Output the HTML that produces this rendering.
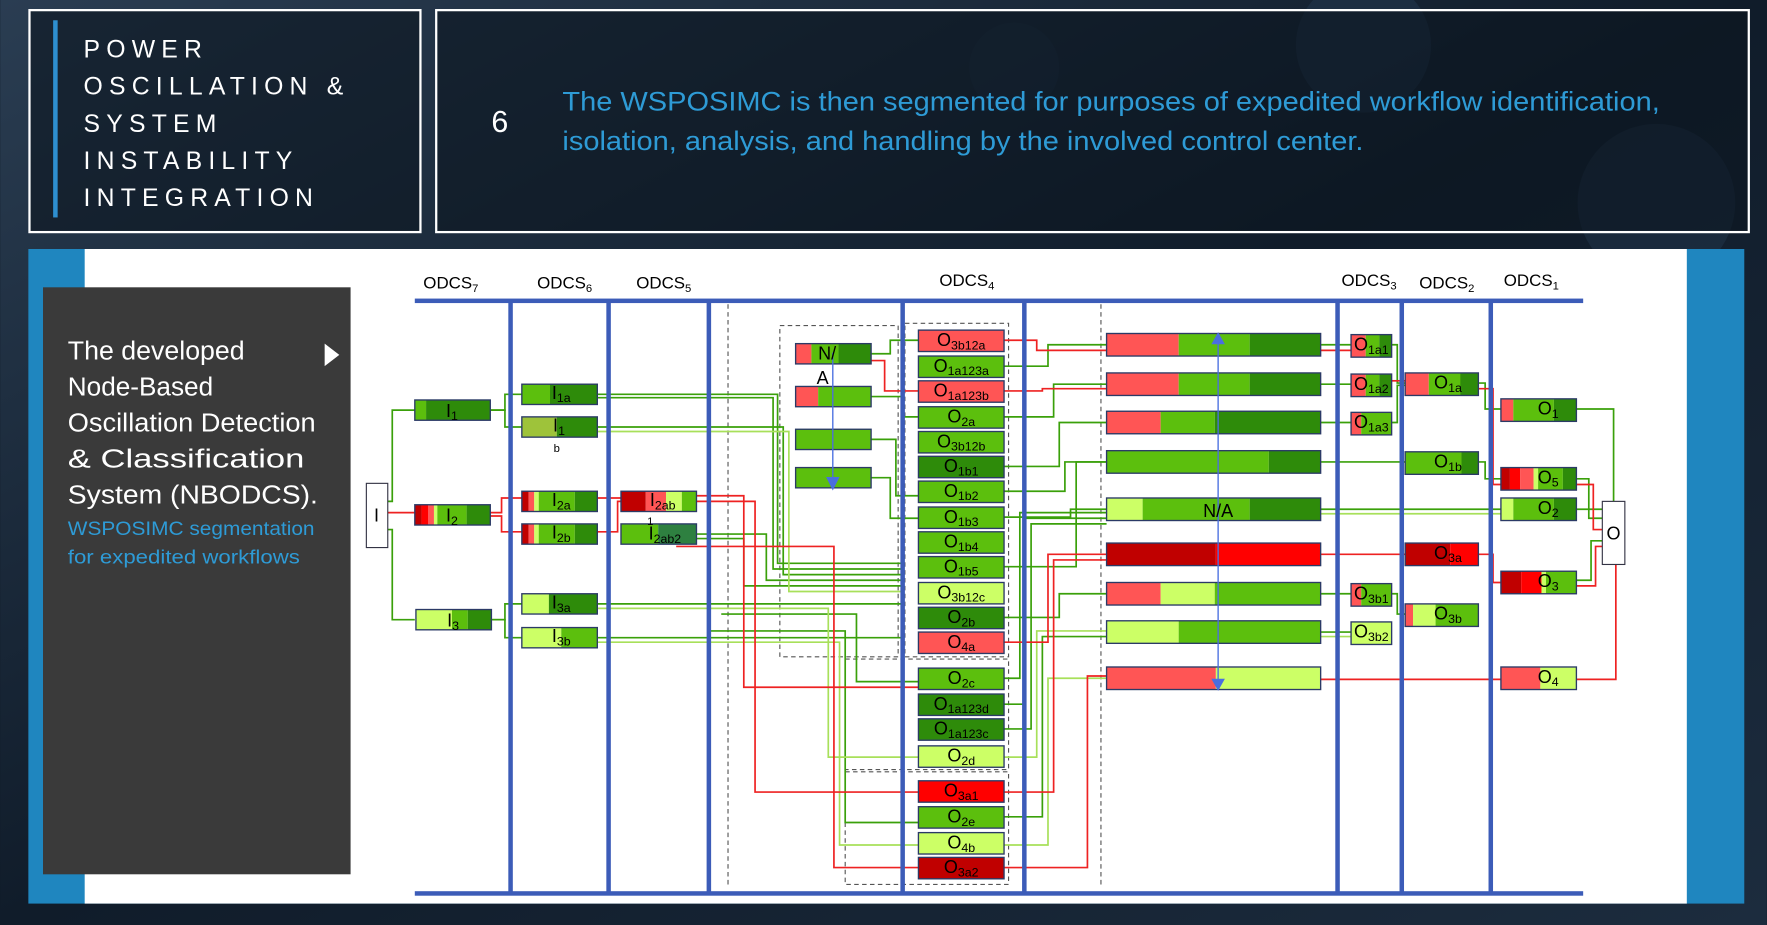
<!DOCTYPE html>
<html><head><meta charset="utf-8"><style>
html,body{margin:0;padding:0;background:#0f1a26;}
svg{display:block}
text{font-family:"Liberation Sans",sans-serif;}
</style></head><body>
<svg width="1767" height="925" viewBox="0 0 1568 821" xmlns="http://www.w3.org/2000/svg">
<defs>
<linearGradient id="bg" x1="0" y1="0" x2="1" y2="1">
<stop offset="0" stop-color="#2a3d52"/><stop offset="0.5" stop-color="#101c2a"/><stop offset="1" stop-color="#1c2c3e"/></linearGradient>
</defs>
<rect width="1568" height="821" fill="url(#bg)"/>
<circle cx="1210" cy="40" r="60" fill="#22364c" opacity="0.6"/>
<circle cx="1470" cy="180" r="70" fill="#22364c" opacity="0.5"/>
<circle cx="900" cy="60" r="40" fill="#1e3044" opacity="0.6"/>
<!-- top boxes -->
<rect x="26" y="9" width="347" height="197" fill="#0c1620" fill-opacity="0.6" stroke="#fff" stroke-width="2"/>
<rect x="47" y="18" width="4" height="175" fill="#2e8fd0"/>
<g fill="#fff" font-size="22" letter-spacing="5.5">
<text x="74" y="51">POWER</text>
<text x="74" y="84">OSCILLATION &amp;</text>
<text x="74" y="117">SYSTEM</text>
<text x="74" y="150">INSTABILITY</text>
<text x="74" y="183">INTEGRATION</text>
</g>
<rect x="387" y="9" width="1165" height="197" fill="#0c1620" fill-opacity="0.6" stroke="#fff" stroke-width="2"/>
<text x="436" y="117" fill="#fff" font-size="27">6</text>
<g fill="#2e9bd6" font-size="24">
<text x="499" y="98" textLength="974" lengthAdjust="spacingAndGlyphs">The WSPOSIMC is then segmented for purposes of expedited workflow identification,</text>
<text x="499" y="133" textLength="711" lengthAdjust="spacingAndGlyphs">isolation, analysis, and handling by the involved control center.</text>
</g>
<!-- main panel -->
<rect x="25" y="221" width="1523" height="581" fill="#1f86bf"/>
<rect x="75" y="221" width="1422" height="581" fill="#fff"/>
<rect x="38" y="255" width="273" height="521" fill="#3a3a3a"/>
<g fill="#fff" font-size="23">
<text x="60" y="319" textLength="157" lengthAdjust="spacingAndGlyphs">The developed</text>
<text x="60" y="351" textLength="129" lengthAdjust="spacingAndGlyphs">Node-Based</text>
<text x="60" y="383" textLength="220" lengthAdjust="spacingAndGlyphs">Oscillation Detection</text>
<text x="60" y="415" textLength="210" lengthAdjust="spacingAndGlyphs">&amp; Classification</text>
<text x="60" y="447" textLength="222" lengthAdjust="spacingAndGlyphs">System (NBODCS).</text>
</g>
<polygon points="288,305 301,315 288,325" fill="#fff"/>
<g fill="#2e9bd6" font-size="17">
<text x="60" y="475" textLength="219" lengthAdjust="spacingAndGlyphs">WSPOSIMC segmentation</text>
<text x="60" y="500" textLength="206" lengthAdjust="spacingAndGlyphs">for expedited workflows</text>
</g>
<!-- headers -->
<g font-size="15" fill="#000" text-anchor="middle">
<text x="400" y="256">ODCS<tspan font-size="10" dy="3">7</tspan></text>
<text x="501" y="256">ODCS<tspan font-size="10" dy="3">6</tspan></text>
<text x="589" y="256">ODCS<tspan font-size="10" dy="3">5</tspan></text>
<text x="858" y="254">ODCS<tspan font-size="10" dy="3">4</tspan></text>
<text x="1215" y="254">ODCS<tspan font-size="10" dy="3">3</tspan></text>
<text x="1284" y="256">ODCS<tspan font-size="10" dy="3">2</tspan></text>
<text x="1359" y="254">ODCS<tspan font-size="10" dy="3">1</tspan></text>
</g>
<!-- dashed -->
<g stroke="#555" stroke-dasharray="4,3" fill="none" stroke-width="1">
<line x1="646" y1="270" x2="646" y2="785"/>
<line x1="977" y1="270" x2="977" y2="785"/>
<rect x="692" y="289" width="105" height="294"/>
<rect x="803" y="287" width="92" height="296"/>
<rect x="750" y="585" width="145" height="98"/>
<rect x="750" y="685" width="145" height="100"/>
</g>
<!-- connectors -->
<g fill="none" stroke-width="1.5">
<g stroke="#3aa00a">
<polyline points="344,445 348,445 348,364 368,364"/>
<polyline points="344,470 348,470 348,550 368,550"/>
<polyline points="435,364 448,364 448,350 463,350"/>
<polyline points="435,364 448,364 448,379 463,379"/>
<polyline points="435,550 448,550 448,536 463,536"/>
<polyline points="435,550 448,550 448,566 463,566"/>
<polyline points="530,350 690,350 690,500 800,500"/>
<polyline points="530,353 686,353 686,505 800,505"/>
<polyline points="530,379 695,379 695,510 800,510"/>
<polyline points="530,536 800,536"/>
<polyline points="530,566 800,566"/>
<polyline points="618,474 680,474 680,515 800,515"/>
<polyline points="618,478 660,478 660,520 800,520"/>
<polyline points="773,314 790,314 790,302 815,302"/>
<polyline points="773,352 800,352 800,370 815,370"/>
<polyline points="773,390 795,390 795,440 815,440"/>
<polyline points="773,424 790,424 790,460 815,460"/>
<polyline points="891,325 930,325 930,306 982,306"/>
<polyline points="891,370 935,370 935,341 982,341"/>
<polyline points="891,414 940,414 940,375 982,375"/>
<polyline points="891,436 945,436 945,410 982,410"/>
<polyline points="891,459 950,459 950,452 982,452"/>
<polyline points="891,503 955,503 955,410 982,410"/>
<polyline points="891,548 940,548 940,527 982,527"/>
<polyline points="891,602 905,602 905,455 982,455"/>
<polyline points="891,625 910,625 910,460 982,460"/>
<polyline points="891,647 915,647 915,465 982,465"/>
<polyline points="891,725 925,725 925,565 982,565"/>
<polyline points="1172,306 1199,306"/>
<polyline points="1172,341 1199,341"/>
<polyline points="1172,375 1199,375"/>
<polyline points="1172,410 1247,410"/>
<polyline points="1172,452 1332,452"/>
<polyline points="1172,527 1199,527"/>
<polyline points="1172,561 1199,561"/>
<polyline points="1235,306 1240,306 1240,340 1247,340"/>
<polyline points="1235,375 1240,375 1240,342 1247,342"/>
<polyline points="1235,527 1240,527 1240,545 1247,545"/>
<polyline points="1312,340 1318,340 1318,363 1332,363"/>
<polyline points="1312,410 1318,410 1318,425 1332,425"/>
<polyline points="1399,363 1432,363 1432,445"/>
<polyline points="1399,452 1422,452"/>
<polyline points="1399,425 1410,425 1410,460 1422,460"/>
<polyline points="1399,515 1412,515 1412,480 1422,480"/>
<polyline points="630,560 750,560 750,730 815,730"/>
<polyline points="640,545 760,545 760,605 815,605"/>
</g>
<g stroke="#a8e05a">
<polyline points="530,383 700,383 700,525 800,525"/>
<polyline points="530,570 745,570 745,750 815,750"/>
<polyline points="530,540 735,540 735,672 815,672"/>
<polyline points="891,672 920,672 920,560 982,560"/>
<polyline points="891,750 930,750 930,602 982,602"/>
<polyline points="1172,565 1199,565"/>
<polyline points="1172,456 1332,456"/>
</g>
<g stroke="#ee2222">
<polyline points="344,455 368,455"/>
<polyline points="435,455 445,455 445,442 463,442"/>
<polyline points="435,458 445,458 445,472 463,472"/>
<polyline points="530,442 551,442"/>
<polyline points="530,472 548,472 548,445 551,445"/>
<polyline points="618,440 660,440 660,610 815,610"/>
<polyline points="618,445 670,445 670,703 815,703"/>
<polyline points="600,485 740,485 740,770 815,770"/>
<polyline points="773,320 785,320 785,347 815,347"/>
<polyline points="891,302 920,302 920,311 982,311"/>
<polyline points="891,347 925,347 925,345 982,345"/>
<polyline points="891,570 930,570 930,492 982,492"/>
<polyline points="891,703 935,703 935,497 982,497"/>
<polyline points="891,770 965,770 965,600 982,600"/>
<polyline points="1172,311 1199,311"/>
<polyline points="1172,492 1247,492"/>
<polyline points="1172,603 1332,603"/>
<polyline points="1235,338 1247,338"/>
<polyline points="1312,345 1325,345 1325,430 1332,430"/>
<polyline points="1312,492 1325,492 1325,517 1332,517"/>
<polyline points="1399,430 1414,430 1414,470 1422,470"/>
<polyline points="1399,520 1416,520 1416,485 1422,485"/>
<polyline points="1399,603 1434,603 1434,501"/>
</g>
</g>
<!-- blue frame -->
<g fill="#3c5cb8">
<rect x="368" y="265" width="1037" height="4"/>
<rect x="368" y="791" width="1037" height="4"/>
<rect x="451" y="267" width="4" height="526"/>
<rect x="538" y="267" width="4" height="526"/>
<rect x="627" y="267" width="4" height="526"/>
<rect x="799" y="267" width="4" height="526"/>
<rect x="907" y="267" width="4" height="526"/>
<rect x="1185" y="267" width="4" height="526"/>
<rect x="1242" y="267" width="4" height="526"/>
<rect x="1321" y="267" width="4" height="526"/>
</g>
<!-- I / O boxes -->
<rect x="325" y="429" width="19" height="57" fill="#fff" stroke="#334" stroke-width="1"/>
<text x="334" y="463" font-size="16" text-anchor="middle">I</text>
<rect x="1422" y="445" width="20" height="56" fill="#fff" stroke="#334" stroke-width="1"/>
<text x="1432" y="479" font-size="16" text-anchor="middle">O</text>
<!-- nodes -->
<g stroke="none">
<rect x="368" y="355" width="10" height="18" fill="#5cbf0d"/><rect x="378" y="355" width="57" height="18" fill="#2e8b0a"/>
<rect x="368" y="448" width="6" height="18" fill="#c00000"/><rect x="374" y="448" width="6" height="18" fill="#ff0000"/><rect x="380" y="448" width="5" height="18" fill="#ff5555"/><rect x="385" y="448" width="3" height="18" fill="#ccff66"/><rect x="388" y="448" width="26" height="18" fill="#5cbf0d"/><rect x="414" y="448" width="21" height="18" fill="#2e8b0a"/>
<rect x="369" y="541" width="32" height="18" fill="#ccff66"/><rect x="401" y="541" width="14" height="18" fill="#5cbf0d"/><rect x="415" y="541" width="21" height="18" fill="#2e8b0a"/>
<rect x="463" y="341" width="25" height="18" fill="#5cbf0d"/><rect x="488" y="341" width="42" height="18" fill="#2e8b0a"/>
<rect x="463" y="370" width="31" height="18" fill="#9ec33a"/><rect x="494" y="370" width="36" height="18" fill="#2e8b0a"/>
<rect x="463" y="436" width="6" height="18" fill="#c00000"/><rect x="469" y="436" width="5" height="18" fill="#ff5555"/><rect x="474" y="436" width="4" height="18" fill="#ccff66"/><rect x="478" y="436" width="32" height="18" fill="#5cbf0d"/><rect x="510" y="436" width="20" height="18" fill="#2e8b0a"/>
<rect x="463" y="465" width="6" height="18" fill="#c00000"/><rect x="469" y="465" width="5" height="18" fill="#ff5555"/><rect x="474" y="465" width="4" height="18" fill="#ccff66"/><rect x="478" y="465" width="32" height="18" fill="#5cbf0d"/><rect x="510" y="465" width="20" height="18" fill="#2e8b0a"/>
<rect x="463" y="527" width="24" height="18" fill="#ccff66"/><rect x="487" y="527" width="43" height="18" fill="#2e8b0a"/>
<rect x="463" y="557" width="35" height="18" fill="#ccff66"/><rect x="498" y="557" width="32" height="18" fill="#5cbf0d"/>
<rect x="551" y="436" width="22" height="18" fill="#c00000"/><rect x="573" y="436" width="18" height="18" fill="#ff5555"/><rect x="591" y="436" width="14" height="18" fill="#ccff66"/><rect x="605" y="436" width="13" height="18" fill="#5cbf0d"/>
<rect x="551" y="465" width="33" height="18" fill="#5cbf0d"/><rect x="584" y="465" width="34" height="18" fill="#2e8040"/>
<rect x="706" y="305" width="14" height="18" fill="#ff5555"/><rect x="720" y="305" width="24" height="18" fill="#5cbf0d"/><rect x="744" y="305" width="29" height="18" fill="#2e8b0a"/>
<rect x="706" y="343" width="20" height="18" fill="#ff5555"/><rect x="726" y="343" width="47" height="18" fill="#5cbf0d"/>
<rect x="706" y="381" width="67" height="18" fill="#5cbf0d"/>
<rect x="706" y="415" width="67" height="18" fill="#5cbf0d"/>
<rect x="815" y="293" width="76" height="19" fill="#ff5555"/>
<rect x="815" y="316" width="76" height="19" fill="#5cbf0d"/>
<rect x="815" y="338" width="76" height="19" fill="#ff5555"/>
<rect x="815" y="361" width="76" height="19" fill="#5cbf0d"/>
<rect x="815" y="383" width="76" height="19" fill="#5cbf0d"/>
<rect x="815" y="405" width="76" height="19" fill="#2e8b0a"/>
<rect x="815" y="427" width="76" height="19" fill="#5cbf0d"/>
<rect x="815" y="450" width="76" height="19" fill="#5cbf0d"/>
<rect x="815" y="472" width="76" height="19" fill="#5cbf0d"/>
<rect x="815" y="494" width="76" height="19" fill="#5cbf0d"/>
<rect x="815" y="517" width="76" height="19" fill="#ccff66"/>
<rect x="815" y="539" width="76" height="19" fill="#2e8b0a"/>
<rect x="815" y="561" width="76" height="19" fill="#ff5555"/>
<rect x="815" y="593" width="76" height="19" fill="#5cbf0d"/>
<rect x="815" y="616" width="76" height="19" fill="#2e8b0a"/>
<rect x="815" y="638" width="76" height="19" fill="#2e8b0a"/>
<rect x="815" y="662" width="76" height="19" fill="#ccff66"/>
<rect x="815" y="693" width="76" height="19" fill="#ff0000"/>
<rect x="815" y="716" width="76" height="19" fill="#5cbf0d"/>
<rect x="815" y="739" width="76" height="19" fill="#ccff66"/>
<rect x="815" y="761" width="76" height="19" fill="#c00000"/>
<rect x="982" y="296" width="64" height="20" fill="#ff5555"/><rect x="1046" y="296" width="63" height="20" fill="#5cbf0d"/><rect x="1109" y="296" width="63" height="20" fill="#2e8b0a"/>
<rect x="982" y="331" width="64" height="20" fill="#ff5555"/><rect x="1046" y="331" width="63" height="20" fill="#5cbf0d"/><rect x="1109" y="331" width="63" height="20" fill="#2e8b0a"/>
<rect x="982" y="365" width="48" height="20" fill="#ff5555"/><rect x="1030" y="365" width="48" height="20" fill="#5cbf0d"/><rect x="1078" y="365" width="94" height="20" fill="#2e8b0a"/>
<rect x="982" y="400" width="144" height="20" fill="#5cbf0d"/><rect x="1126" y="400" width="46" height="20" fill="#2e8b0a"/>
<rect x="982" y="442" width="32" height="20" fill="#ccff66"/><rect x="1014" y="442" width="95" height="20" fill="#5cbf0d"/><rect x="1109" y="442" width="63" height="20" fill="#2e8b0a"/>
<rect x="982" y="482" width="97" height="20" fill="#c00000"/><rect x="1079" y="482" width="93" height="20" fill="#ff0000"/>
<rect x="982" y="517" width="48" height="20" fill="#ff5555"/><rect x="1030" y="517" width="48" height="20" fill="#ccff66"/><rect x="1078" y="517" width="94" height="20" fill="#5cbf0d"/>
<rect x="982" y="551" width="64" height="20" fill="#ccff66"/><rect x="1046" y="551" width="126" height="20" fill="#5cbf0d"/>
<rect x="982" y="592" width="97" height="20" fill="#ff5555"/><rect x="1079" y="592" width="93" height="20" fill="#ccff66"/>
<rect x="1199" y="297" width="13" height="20" fill="#ff5555"/><rect x="1212" y="297" width="12" height="20" fill="#5cbf0d"/><rect x="1224" y="297" width="11" height="20" fill="#2e8b0a"/>
<rect x="1199" y="332" width="13" height="20" fill="#ff5555"/><rect x="1212" y="332" width="12" height="20" fill="#5cbf0d"/><rect x="1224" y="332" width="11" height="20" fill="#2e8b0a"/>
<rect x="1199" y="366" width="9" height="20" fill="#ff5555"/><rect x="1208" y="366" width="27" height="20" fill="#5cbf0d"/>
<rect x="1199" y="518" width="9" height="20" fill="#ff5555"/><rect x="1208" y="518" width="27" height="20" fill="#5cbf0d"/>
<rect x="1199" y="552" width="36" height="20" fill="#ccff66"/>
<rect x="1247" y="331" width="21" height="20" fill="#ff5555"/><rect x="1268" y="331" width="44" height="20" fill="#5cbf0d"/><rect x="1296" y="331" width="16" height="20" fill="#2e8b0a"/>
<rect x="1247" y="401" width="50" height="20" fill="#5cbf0d"/><rect x="1297" y="401" width="15" height="20" fill="#2e8b0a"/>
<rect x="1247" y="482" width="40" height="20" fill="#c00000"/><rect x="1287" y="482" width="25" height="20" fill="#ff0000"/>
<rect x="1247" y="536" width="7" height="20" fill="#ff5555"/><rect x="1254" y="536" width="20" height="20" fill="#ccff66"/><rect x="1274" y="536" width="38" height="20" fill="#5cbf0d"/>
<rect x="1332" y="354" width="11" height="20" fill="#ff5555"/><rect x="1343" y="354" width="36" height="20" fill="#5cbf0d"/><rect x="1379" y="354" width="20" height="20" fill="#2e8b0a"/>
<rect x="1332" y="415" width="8" height="20" fill="#c00000"/><rect x="1340" y="415" width="9" height="20" fill="#ff0000"/><rect x="1349" y="415" width="12" height="20" fill="#ff5555"/><rect x="1361" y="415" width="4" height="20" fill="#ccff66"/><rect x="1365" y="415" width="22" height="20" fill="#5cbf0d"/><rect x="1387" y="415" width="12" height="20" fill="#2e8b0a"/>
<rect x="1332" y="442" width="11" height="20" fill="#ccff66"/><rect x="1343" y="442" width="36" height="20" fill="#5cbf0d"/><rect x="1379" y="442" width="20" height="20" fill="#2e8b0a"/>
<rect x="1332" y="507" width="18" height="20" fill="#c00000"/><rect x="1350" y="507" width="18" height="20" fill="#ff0000"/><rect x="1368" y="507" width="4" height="20" fill="#ccff66"/><rect x="1372" y="507" width="27" height="20" fill="#5cbf0d"/>
<rect x="1332" y="592" width="35" height="20" fill="#ff5555"/><rect x="1367" y="592" width="32" height="20" fill="#ccff66"/>
</g>
<!-- node borders -->
<g fill="none" stroke="#2b3a66" stroke-width="1.2">
<rect x="368" y="355" width="67" height="18"/><rect x="368" y="448" width="67" height="18"/><rect x="369" y="541" width="67" height="18"/>
<rect x="463" y="341" width="67" height="18"/><rect x="463" y="370" width="67" height="18"/><rect x="463" y="436" width="67" height="18"/><rect x="463" y="465" width="67" height="18"/><rect x="463" y="527" width="67" height="18"/><rect x="463" y="557" width="67" height="18"/>
<rect x="551" y="436" width="67" height="18"/><rect x="551" y="465" width="67" height="18"/>
<rect x="706" y="305" width="67" height="18"/><rect x="706" y="343" width="67" height="18"/><rect x="706" y="381" width="67" height="18"/><rect x="706" y="415" width="67" height="18"/>
<rect x="815" y="293" width="76" height="19"/><rect x="815" y="316" width="76" height="19"/><rect x="815" y="338" width="76" height="19"/><rect x="815" y="361" width="76" height="19"/><rect x="815" y="383" width="76" height="19"/><rect x="815" y="405" width="76" height="19"/><rect x="815" y="427" width="76" height="19"/><rect x="815" y="450" width="76" height="19"/><rect x="815" y="472" width="76" height="19"/><rect x="815" y="494" width="76" height="19"/><rect x="815" y="517" width="76" height="19"/><rect x="815" y="539" width="76" height="19"/><rect x="815" y="561" width="76" height="19"/><rect x="815" y="593" width="76" height="19"/><rect x="815" y="616" width="76" height="19"/><rect x="815" y="638" width="76" height="19"/><rect x="815" y="662" width="76" height="19"/><rect x="815" y="693" width="76" height="19"/><rect x="815" y="716" width="76" height="19"/><rect x="815" y="739" width="76" height="19"/><rect x="815" y="761" width="76" height="19"/>
<rect x="982" y="296" width="190" height="20"/><rect x="982" y="331" width="190" height="20"/><rect x="982" y="365" width="190" height="20"/><rect x="982" y="400" width="190" height="20"/><rect x="982" y="442" width="190" height="20"/><rect x="982" y="482" width="190" height="20"/><rect x="982" y="517" width="190" height="20"/><rect x="982" y="551" width="190" height="20"/><rect x="982" y="592" width="190" height="20"/>
<rect x="1199" y="297" width="36" height="20"/><rect x="1199" y="332" width="36" height="20"/><rect x="1199" y="366" width="36" height="20"/><rect x="1199" y="518" width="36" height="20"/><rect x="1199" y="552" width="36" height="20"/>
<rect x="1247" y="331" width="65" height="20"/><rect x="1247" y="401" width="65" height="20"/><rect x="1247" y="482" width="65" height="20"/><rect x="1247" y="536" width="65" height="20"/>
<rect x="1332" y="354" width="67" height="20"/><rect x="1332" y="415" width="67" height="20"/><rect x="1332" y="442" width="67" height="20"/><rect x="1332" y="507" width="67" height="20"/><rect x="1332" y="592" width="67" height="20"/>
</g>
<!-- arrows -->
<g stroke="#4a6ee0" stroke-width="1.2" fill="#4a6ee0">
<line x1="739" y1="313" x2="739" y2="428"/><polygon points="734,424 744,424 739,434"/>
<line x1="1081" y1="300" x2="1081" y2="608"/><polygon points="1076,305 1086,305 1081,296"/><polygon points="1076,603 1086,603 1081,612"/>
</g>
<!-- labels -->
<g font-size="16" fill="#000" text-anchor="middle">
<text x="401" y="370">I<tspan font-size="11" dy="3">1</tspan></text>
<text x="401" y="463">I<tspan font-size="11" dy="3">2</tspan></text>
<text x="402" y="556">I<tspan font-size="11" dy="3">3</tspan></text>
<text x="498" y="354">I<tspan font-size="11" dy="3">1a</tspan></text>
<text x="496" y="383">I<tspan font-size="11" dy="3">1</tspan></text>
<text x="494" y="401" font-size="10">b</text>
<text x="498" y="449">I<tspan font-size="11" dy="3">2a</tspan></text>
<text x="498" y="478">I<tspan font-size="11" dy="3">2b</tspan></text>
<text x="498" y="540">I<tspan font-size="11" dy="3">3a</tspan></text>
<text x="498" y="570">I<tspan font-size="11" dy="3">3b</tspan></text>
<text x="588" y="449">I<tspan font-size="11" dy="3">2ab</tspan></text>
<text x="577" y="466" font-size="10">1</text>
<text x="590" y="479">I<tspan font-size="11" dy="3">2ab2</tspan></text>
<text x="734" y="319">N/</text>
<text x="730" y="341">A</text>
<text x="1081" y="459">N/A</text>
</g>
<g font-size="16" fill="#000" text-anchor="middle">
<text x="853" y="307">O<tspan font-size="11" dy="3">3b12a</tspan></text>
<text x="853" y="330">O<tspan font-size="11" dy="3">1a123a</tspan></text>
<text x="853" y="352">O<tspan font-size="11" dy="3">1a123b</tspan></text>
<text x="853" y="375">O<tspan font-size="11" dy="3">2a</tspan></text>
<text x="853" y="397">O<tspan font-size="11" dy="3">3b12b</tspan></text>
<text x="853" y="419">O<tspan font-size="11" dy="3">1b1</tspan></text>
<text x="853" y="441">O<tspan font-size="11" dy="3">1b2</tspan></text>
<text x="853" y="464">O<tspan font-size="11" dy="3">1b3</tspan></text>
<text x="853" y="486">O<tspan font-size="11" dy="3">1b4</tspan></text>
<text x="853" y="508">O<tspan font-size="11" dy="3">1b5</tspan></text>
<text x="853" y="531">O<tspan font-size="11" dy="3">3b12c</tspan></text>
<text x="853" y="553">O<tspan font-size="11" dy="3">2b</tspan></text>
<text x="853" y="575">O<tspan font-size="11" dy="3">4a</tspan></text>
<text x="853" y="607">O<tspan font-size="11" dy="3">2c</tspan></text>
<text x="853" y="630">O<tspan font-size="11" dy="3">1a123d</tspan></text>
<text x="853" y="652">O<tspan font-size="11" dy="3">1a123c</tspan></text>
<text x="853" y="676">O<tspan font-size="11" dy="3">2d</tspan></text>
<text x="853" y="707">O<tspan font-size="11" dy="3">3a1</tspan></text>
<text x="853" y="730">O<tspan font-size="11" dy="3">2e</tspan></text>
<text x="853" y="753">O<tspan font-size="11" dy="3">4b</tspan></text>
<text x="853" y="775">O<tspan font-size="11" dy="3">3a2</tspan></text>
<text x="1217" y="311">O<tspan font-size="11" dy="3">1a1</tspan></text>
<text x="1217" y="346">O<tspan font-size="11" dy="3">1a2</tspan></text>
<text x="1217" y="380">O<tspan font-size="11" dy="3">1a3</tspan></text>
<text x="1217" y="532">O<tspan font-size="11" dy="3">3b1</tspan></text>
<text x="1217" y="566">O<tspan font-size="11" dy="3">3b2</tspan></text>
<text x="1285" y="345">O<tspan font-size="11" dy="3">1a</tspan></text>
<text x="1285" y="415">O<tspan font-size="11" dy="3">1b</tspan></text>
<text x="1285" y="496">O<tspan font-size="11" dy="3">3a</tspan></text>
<text x="1285" y="550">O<tspan font-size="11" dy="3">3b</tspan></text>
<text x="1374" y="368">O<tspan font-size="11" dy="3">1</tspan></text>
<text x="1374" y="429">O<tspan font-size="11" dy="3">5</tspan></text>
<text x="1374" y="456">O<tspan font-size="11" dy="3">2</tspan></text>
<text x="1374" y="521">O<tspan font-size="11" dy="3">3</tspan></text>
<text x="1374" y="606">O<tspan font-size="11" dy="3">4</tspan></text>
</g>
</svg>
</body></html>
